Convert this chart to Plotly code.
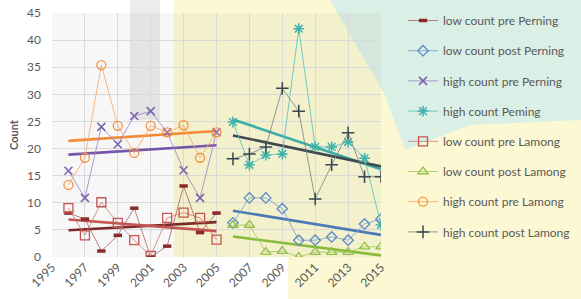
import numpy as np
import plotly.graph_objects as go

years_pre = [1996, 1997, 1998, 1999, 2000, 2001, 2002, 2003, 2004, 2005]
years_post = [2006, 2007, 2008, 2009, 2010, 2011, 2012, 2013, 2014, 2015]

low_pre_perning = [8.1, 7.0, 1.1, 4.0, 9.0, 0.0, 2.0, 13.1, 4.5, 8.1]
low_post_perning = [6.3, 10.9, 10.9, 8.9, 3.1, 3.1, 3.7, 3.1, 6.1, 7.0]
high_pre_perning = [15.9, 10.9, 24.0, 20.8, 26.0, 26.9, 23.0, 16.0, 10.9, 23.0]
high_perning = [24.9, 17.0, 18.8, 19.0, 42.1, 20.3, 20.3, 21.2, 18.2, 5.9]
low_pre_lamong = [9.0, 4.0, 10.1, 6.3, 3.1, 0.2, 7.2, 8.2, 7.2, 3.2]
low_post_lamong = [5.9, 5.9, 0.9, 1.1, 0.0, 0.9, 0.9, 0.9, 1.9, 1.9]
high_pre_lamong = [13.3, 18.3, 35.4, 24.2, 19.2, 24.2, 23.0, 24.3, 18.3, 23.0]
high_post_lamong = [18.1, 19.0, 20.3, 31.1, 26.9, 10.7, 17.0, 22.9, 14.8, 14.8]

x_ticks = [1995, 1997, 1999, 2001, 2003, 2005, 2007, 2009, 2011, 2013, 2015]
y_ticks = [0, 5, 10, 15, 20, 25, 30, 35, 40, 45]

series = [
    ("low count pre Perning", years_pre, low_pre_perning, "line-ew-open", 6, 3.5, "#8a2b2b", "rgba(160,80,80,0.7)", "#7a2a2a"),
    ("low count post Perning", years_post, low_post_perning, "diamond-open", 8, 1.3, "#5b8ac4", "rgba(110,160,210,0.8)", "#4a7bb5"),
    ("high count pre Perning", years_pre, high_pre_perning, "x-thin-open", 8, 1.5, "#7c62ad", "rgba(150,130,195,0.8)", "#7656a8"),
    ("high count Peming", years_post, high_perning, "asterisk-open", 9, 1.5, "#3fb3aa", "rgba(90,195,190,0.85)", "#3aaea6"),
    ("low count pre Lamong", years_pre, low_pre_lamong, "square-open", 9, 1.3, "#c55450", "rgba(205,110,105,0.75)", "#c25550"),
    ("low count post Lamong", years_post, low_post_lamong, "triangle-up-open", 9, 1.3, "#92c045", "rgba(160,200,90,0.8)", "#88bb3a"),
    ("high count pre Lamong", years_pre, high_pre_lamong, "circle-open", 9, 1.3, "#f7923f", "rgba(248,170,110,0.85)", "#f58a35"),
    ("high count post Lamong", years_post, high_post_lamong, "cross-thin-open", 9, 1.5, "#37474f", "rgba(120,130,135,0.8)", "#3e4a50"),
]

fig = go.Figure()

# trendlines (linear fit computed from the data), not in legend
for name, xs, ys, sym, ms, mlw, mcol, lcol, tcol in series:
    xa = np.array(xs, dtype=float)
    ya = np.array(ys, dtype=float)
    k, b = np.polyfit(xa, ya, 1)
    fig.add_trace(go.Scatter(x=[xa[0], xa[-1]], y=[k * xa[0] + b, k * xa[-1] + b],
                             mode="lines", line=dict(color=tcol, width=2.6),
                             showlegend=False, hoverinfo="skip"))

for name, xs, ys, sym, ms, mlw, mcol, lcol, tcol in series:
    fig.add_trace(go.Scatter(
        x=xs, y=ys, name=name, legendgroup=name,
        mode="lines+markers",
        line=dict(color=lcol, width=1),
        marker=dict(symbol=sym, size=ms, color=mcol, line=dict(color=mcol, width=mlw)),
    ))

W, H = 581, 299
L, R, T, B = 52, 200, 13, 42
PW, PH = W - L - R, H - T - B


def fx(xp):
    return (xp - L) / PW


def fy(yp):
    return (H - B - yp) / PH


shapes = [
    # yellow region
    dict(type="rect", xref="paper", yref="paper", x0=fx(174), x1=fx(W),
         y0=fy(H - B), y1=fy(0), fillcolor="#fbf8d3", line_width=0, layer="below"),
    dict(type="rect", xref="paper", yref="paper", x0=fx(288), x1=fx(W),
         y0=fy(H), y1=fy(H - B), fillcolor="#fbf8d3", line_width=0, layer="below"),
    # mint region (upper right)
    dict(type="path", xref="paper", yref="paper",
         path="M {},{} L {},{} L {},{} L {},{} L {},{} L {},{} Z".format(
             fx(330), fy(0), fx(W), fy(0), fx(W), fy(120), fx(470), fy(125),
             fx(405), fy(150), fx(385), fy(95)),
         fillcolor="#daefe5", line_width=0, layer="below"),
    # gray band left
    dict(type="rect", xref="paper", yref="paper", x0=fx(130), x1=fx(160),
         y0=fy(120), y1=fy(0), fillcolor="#ececec", line_width=0, layer="below"),
    # hatch tint over plot area
    dict(type="rect", xref="paper", yref="paper", x0=0, x1=1, y0=0, y1=1,
         fillcolor="rgba(0,0,0,0.03)", line_width=0, layer="below"),
]

fig.update_layout(
    width=W, height=H,
    margin=dict(l=L, r=R, t=T, b=B, pad=0, autoexpand=False),
    paper_bgcolor="white",
    plot_bgcolor="rgba(0,0,0,0)",
    font=dict(family="Lato, Open Sans, sans-serif", size=12, color="#595959"),
    showlegend=True,
    legend=dict(x=fx(403), y=fy(6), xanchor="left", yanchor="top",
                bgcolor="rgba(0,0,0,0)", font=dict(size=12, color="#595959"),
                tracegroupgap=11.2, itemwidth=30, maxheight=1.0),
    shapes=shapes,
    xaxis=dict(range=[1995, 2015], tickmode="array", tickvals=x_ticks,
               ticktext=[str(v) for v in x_ticks], tickangle=-45,
               showgrid=True, gridcolor="#d9d9d9", gridwidth=1,
               zeroline=False, showline=False, ticks="", automargin=False,
               tickfont=dict(size=12, color="#595959")),
    yaxis=dict(range=[0, 45], tickmode="array", tickvals=y_ticks,
               showgrid=True, gridcolor="#d9d9d9", gridwidth=1,
               zeroline=False, showline=False, ticks="", ticklabelstandoff=10,
               automargin=False,
               tickfont=dict(size=12, color="#595959"),
               title=dict(text="<b>Count</b>", font=dict(size=11, color="#595959"), standoff=6)),
)

fig.write_html("out.html", config={"displayModeBar": False},
               post_script="document.body.style.margin='0';")
